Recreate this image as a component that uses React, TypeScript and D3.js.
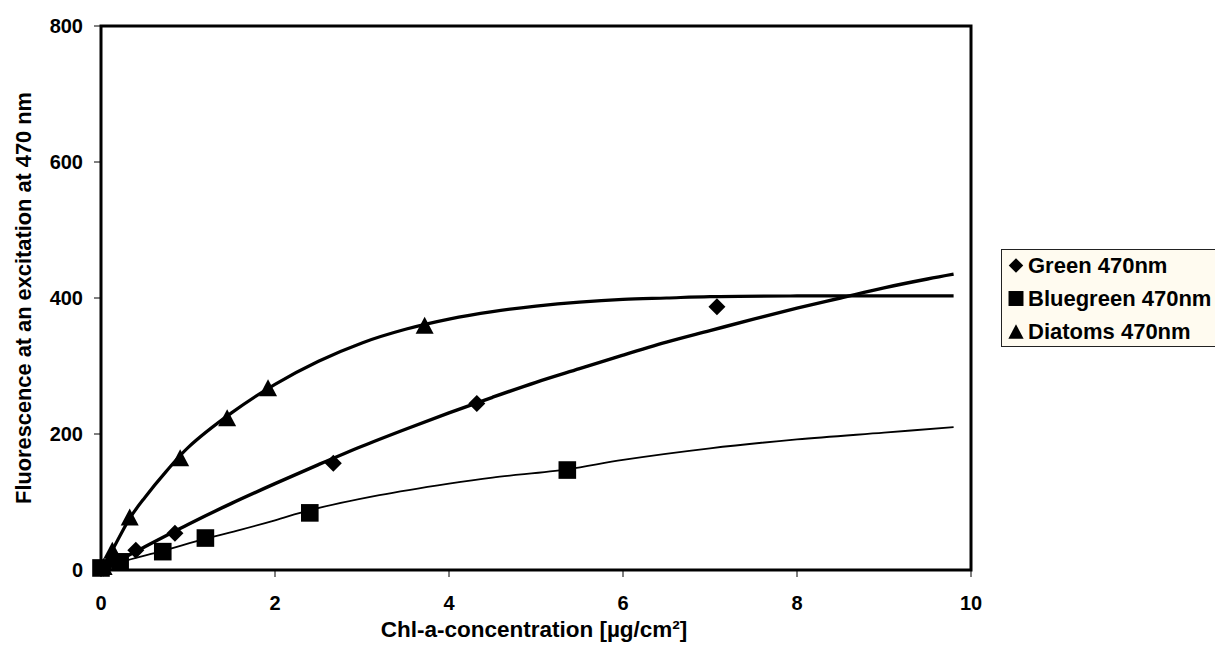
import React from "react";
import * as d3 from "d3";

// ---- Data ----
const xTicks = [0, 2, 4, 6, 8, 10];
const yTicks = [0, 200, 400, 600, 800];

// measured points
const greenX = [0.03, 0.15, 0.4, 0.85, 2.67, 4.32, 7.08];
const greenY = [3, 12, 29, 54, 157, 245, 387];
const bluegreenX = [0, 0.22, 0.71, 1.2, 2.4, 5.36];
const bluegreenY = [3, 12, 27, 47, 84, 147];
const diatomsX = [0.03, 0.13, 0.33, 0.91, 1.45, 1.92, 3.72];
const diatomsY = [5, 29, 78, 165, 224, 268, 360];

// fitted trend curves
const greenFitX = [0, 0.5, 1, 1.5, 2, 2.5, 3, 3.5, 4, 4.5, 5, 5.5, 6, 6.5, 7, 7.5, 8, 8.5, 9, 9.5, 9.8];
const greenFitY = [0, 34, 67, 98, 127, 155, 182, 207, 231, 254, 276, 296, 316, 335, 352, 369, 385, 400, 415, 428, 435];
const bluegreenFitX = [0, 0.22, 0.71, 1.2, 1.6, 2.0, 2.4, 3.2, 4.0, 4.5, 5.36, 6, 7, 8, 9, 9.8];
const bluegreenFitY = [0, 11, 28, 46, 59, 73, 88, 110, 127, 136, 148, 162, 179, 192, 202, 210];
const diatomsFitX = [0, 0.13, 0.33, 0.5, 0.75, 1, 1.5, 2, 2.5, 3, 3.5, 4, 4.5, 5, 5.5, 6, 6.5, 7, 8, 9, 9.8];
const diatomsFitY = [0, 29, 76, 106, 145, 180, 231, 273, 307, 334, 354, 369, 380, 388, 394, 398, 400, 402, 403, 403, 403];

const legendLabels = ["Green 470nm", "Bluegreen 470nm", "Diatoms 470nm"];

const FONT = "'Liberation Sans', Arial, sans-serif";

const zip = (xs: number[], ys: number[]) => xs.map((x, i) => [x, ys[i]] as [number, number]);

function Marker({ kind, cx, cy, s = 1 }: { kind: string; cx: number; cy: number; s?: number }) {
  if (kind === "diamond") {
    const r = 8.5 * s;
    return <path d={`M${cx},${cy - r}L${cx + r},${cy}L${cx},${cy + r}L${cx - r},${cy}Z`} fill="#000" />;
  }
  if (kind === "square") {
    const r = 8.8 * s;
    return <rect x={cx - r} y={cy - r} width={2 * r} height={2 * r} fill="#000" />;
  }
  const w = 9 * s, h = 8.5 * s;
  return <path d={`M${cx},${cy - h}L${cx + w},${cy + h}L${cx - w},${cy + h}Z`} fill="#000" />;
}

export default function App() {
  const W = 1215, H = 652;
  const x = d3.scaleLinear().domain([0, 10]).range([101, 971]);
  const y = d3.scaleLinear().domain([0, 800]).range([570, 26]);
  const line = d3
    .line<[number, number]>()
    .x((d) => x(d[0]))
    .y((d) => y(d[1]))
    .curve(d3.curveCatmullRom.alpha(0.5));

  const series = [
    { kind: "diamond", pts: zip(greenX, greenY), fit: zip(greenFitX, greenFitY), lw: 3.4 },
    { kind: "square", pts: zip(bluegreenX, bluegreenY), fit: zip(bluegreenFitX, bluegreenFitY), lw: 1.8 },
    { kind: "triangle", pts: zip(diatomsX, diatomsY), fit: zip(diatomsFitX, diatomsFitY), lw: 3.2 },
  ];

  const legendBaselines = [273, 306, 339];

  return (
    <div style={{ position: "absolute", left: 0, top: 0 }}>
      <svg width={W} height={H} style={{ display: "block", background: "#fff" }} fontFamily={FONT}>
        {/* fit curves */}
        {series.map((s, i) => (
          <path key={"f" + i} d={line(s.fit) || ""} fill="none" stroke="#000" strokeWidth={s.lw} strokeLinejoin="round" />
        ))}
        {/* markers */}
        {series.map((s, i) =>
          s.pts.map((p, j) => <Marker key={`m${i}-${j}`} kind={s.kind} cx={x(p[0])} cy={y(p[1])} />)
        )}
        {/* plot border */}
        <rect x={x(0)} y={y(800)} width={x(10) - x(0)} height={y(0) - y(800)} fill="none" stroke="#000" strokeWidth={3} />
        {/* y ticks */}
        {yTicks.map((t) => (
          <g key={"y" + t}>
            <line x1={94} x2={x(0)} y1={y(t)} y2={y(t)} stroke="#000" strokeWidth={1} />
            <text x={83} y={y(t)} dy="0.35em" textAnchor="end" fontSize={20} fontWeight="bold">
              {t}
            </text>
          </g>
        ))}
        {/* x ticks */}
        {xTicks.map((t) => (
          <g key={"x" + t}>
            <line x1={x(t)} x2={x(t)} y1={y(0)} y2={577} stroke="#000" strokeWidth={1} />
            <text x={x(t)} y={610} textAnchor="middle" fontSize={20} fontWeight="bold">
              {t}
            </text>
          </g>
        ))}
        {/* axis titles */}
        <text x={534} y={637} textAnchor="middle" fontSize={22.5} fontWeight="bold">
          Chl-a-concentration [µg/cm²]
        </text>
        <text transform="translate(31,298) rotate(-90)" textAnchor="middle" fontSize={21.8} fontWeight="bold">
          Fluorescence at an excitation at 470 nm
        </text>
        {/* legend */}
        <rect x={1001.5} y={249.5} width={260} height={97} fill="#FFFBF0" stroke="#222" strokeWidth={1} />
        {legendLabels.map((lab, i) => (
          <g key={"l" + i}>
            <Marker kind={series[i].kind} cx={1016} cy={legendBaselines[i] - 7.5} s={0.85} />
            <text x={1028} y={legendBaselines[i]} fontSize={22} fontWeight="bold">
              {lab}
            </text>
          </g>
        ))}
      </svg>
    </div>
  );
}
